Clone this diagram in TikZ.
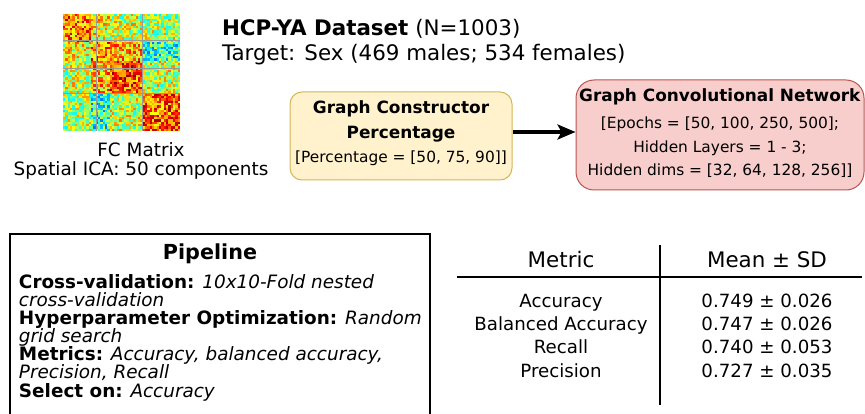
\documentclass[tikz,border=0pt]{standalone}
\usepackage{fontspec}
\setmainfont{DejaVu Sans}[ItalicFont={DejaVu Sans Oblique},BoldFont={DejaVu Sans Bold},BoldItalicFont={DejaVu Sans Bold Oblique}]
\usetikzlibrary{arrows.meta}
\definecolor{gcfill}{HTML}{FFF2CC}
\definecolor{gcdraw}{HTML}{D6B656}
\definecolor{gcnfill}{HTML}{F8CECC}
\definecolor{gcndraw}{HTML}{B85450}
\newcommand{\fs}[2]{\fontsize{#1}{#2}\selectfont}
\begin{document}
\begin{tikzpicture}[x=1pt,y=-1pt,
  txt/.style={inner sep=0pt,outer sep=0pt,anchor=base},
  ltxt/.style={inner sep=0pt,outer sep=0pt,anchor=base west},
  gcbox/.style={draw=gcdraw,fill=gcfill,line width=1pt,rounded corners=12pt,minimum width=222pt,minimum height=88pt,inner sep=0pt},
  gcnbox/.style={draw=gcndraw,fill=gcnfill,line width=1pt,rounded corners=18pt,minimum width=288pt,minimum height=110pt,inner sep=0pt},
  arr/.style={line width=3.2pt,-{Stealth[length=18pt,width=15pt,inset=4pt]}},
  rule/.style={line width=1.6pt}]
\useasboundingbox (0,0) rectangle (865,414);
% FC matrix
\pgfmathsetseed{4242}
\foreach \i in {1,...,50}{
  \foreach \j in {\i,...,50}{
    \pgfmathtruncatemacro\gi{(\i>12)+(\i>20)+(\i>34)}
    \pgfmathtruncatemacro\gj{(\j>12)+(\j>20)+(\j>34)}
    \pgfmathtruncatemacro\idx{\gi*4+\gj}
    \pgfmathsetmacro\base{{0.76,0.62,0.57,0.55,0,0.76,0.68,0.42,0,0,0.82,0.58,0,0,0,0.78}[\idx]}
    \pgfmathsetmacro\v{\i==\j ? 0.7 : max(0.2,min(0.99,\base + 0.38*(rnd-0.5)))}
    \pgfmathsetmacro\cr{max(0,min(1,1.5-abs(4*\v-3)))}
    \pgfmathsetmacro\cg{max(0,min(1,1.5-abs(4*\v-2)))}
    \pgfmathsetmacro\cb{max(0,min(1,1.5-abs(4*\v-1)))}
    \definecolor{cc}{rgb}{\cr,\cg,\cb}
    \fill[cc] ({63+(\j-1)*2.34},{14+(\i-1)*2.34}) rectangle +(2.4,2.4);
    \fill[cc] ({63+(\i-1)*2.34},{14+(\j-1)*2.34}) rectangle +(2.4,2.4);
  }
}
\foreach \k in {11,23,34}{
  \draw[black!40,line width=0.3pt] (63,{14+\k*2.34}) -- (180,{14+\k*2.34});
}
\foreach \k in {14,34}{
  \draw[black!40,line width=0.3pt] ({63+\k*2.34},14) -- ({63+\k*2.34},131);
}
\node[txt] (fc1) at (141,157) {\fs{18.4}{19}FC Matrix};
\node[txt] (fc2) at (141,176) {\fs{18.4}{19}Spatial ICA: 50 components};
% title
\node[ltxt] (t1) at (222,36) {\fs{21.4}{24}\textbf{HCP-YA Dataset} (N=1003)};
\node[ltxt] (t2) at (222,61) {\fs{21.4}{24}Target: Sex (469 males; 534 females)};
% boxes
\node[gcbox] (gc) at (401,136) {};
\node[txt] (gca) at (401,114) {\fs{16.9}{20}\textbf{Graph Constructor}};
\node[txt] (gcb) at (401,139) {\fs{16.9}{20}\textbf{Percentage}};
\node[txt] (gcc) at (401,163) {\fs{15.4}{18}[Percentage = [50, 75, 90]]};
\node[gcnbox] (gcn) at (720,135) {};
\node[txt] (gna) at (720,102) {\fs{16.9}{20}\textbf{Graph Convolutional Network}};
\node[txt] (gnb) at (720,129) {\fs{15.4}{18}[Epochs = [50, 100, 250, 500];};
\node[txt] (gnc) at (720,153) {\fs{15.4}{18}Hidden Layers = 1 - 3;};
\node[txt] (gnd) at (720,176) {\fs{15.4}{18}Hidden dims = [32, 64, 128, 256]]};
\draw[arr] (gc.east |- 0,132) -- (gcn.west |- 0,132);
% pipeline
\coordinate (pbl) at (10,420);
\coordinate (ptl) at (10,234);
\coordinate (ptr) at (430,234);
\coordinate (pbr) at (430,420);
\draw[line width=1.8pt] (pbl) -- (ptl) -- (ptr) -- (pbr);
\node[txt] (pt) at (210,260) {\fs{20.7}{24}\textbf{Pipeline}};
\node[ltxt] (p1) at (19,288) {\fs{18.4}{18}\textbf{Cross-validation:} \textit{10x10-Fold nested}};
\node[ltxt] (p2) at (19,306.5) {\fs{18.4}{18}\textit{cross-validation}};
\node[ltxt] (p3) at (19,324.5) {\fs{18.4}{18}\textbf{Hyperparameter Optimization:} \textit{Random}};
\node[ltxt] (p4) at (19,342.5) {\fs{18.4}{18}\textit{grid search}};
\node[ltxt] (p5) at (19,360.5) {\fs{18.4}{18}\textbf{Metrics:} \textit{Accuracy, balanced accuracy,}};
\node[ltxt] (p6) at (19,378.5) {\fs{18.4}{18}\textit{Precision, Recall}};
\node[ltxt] (p7) at (19,397) {\fs{18.4}{18}\textbf{Select on:} \textit{Accuracy}};
% table
\coordinate (hl) at (457,277);
\coordinate (hr) at (862,277);
\coordinate (vt) at (660,245);
\coordinate (vb) at (660,405);
\draw[rule] (hl) -- (hr);
\draw[rule] (vt) -- (vb);
\node[txt] (h1) at (561,267) {\fs{21.4}{24}Metric};
\node[txt] (h2) at (767,267) {\fs{21.4}{24}Mean ± SD};
\node[txt] (r1a) at (561,307) {\fs{18.2}{20}Accuracy};
\node[txt] (r2a) at (561,330) {\fs{18.2}{20}Balanced Accuracy};
\node[txt] (r3a) at (561,353.5) {\fs{18.2}{20}Recall};
\node[txt] (r4a) at (561,377) {\fs{18.2}{20}Precision};
\node[txt] (r1b) at (767,307) {\fs{18.2}{20}0.749 ± 0.026};
\node[txt] (r2b) at (767,330) {\fs{18.2}{20}0.747 ± 0.026};
\node[txt] (r3b) at (767,353.5) {\fs{18.2}{20}0.740 ± 0.053};
\node[txt] (r4b) at (767,377) {\fs{18.2}{20}0.727 ± 0.035};
\end{tikzpicture}
\end{document}
